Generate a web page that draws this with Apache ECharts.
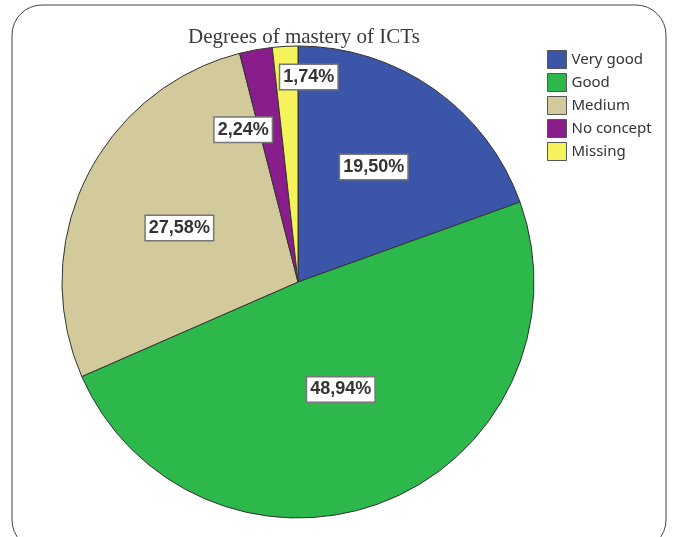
<!DOCTYPE html>
<html>
<head>
<meta charset="utf-8">
<script src="https://cdn.jsdelivr.net/npm/echarts@6/dist/echarts.min.js"></script>
<style>html,body{margin:0;padding:0;background:#fff;}#c{width:677px;height:537px;}</style>
</head>
<body>
<div id="c"></div>
<script>
const categories = ['Very good', 'Good', 'Medium', 'No concept', 'Missing'];
const values = [19.50, 48.94, 27.58, 2.24, 1.74];
const colors = ['#3b55a9', '#2db84b', '#d3ca9b', '#881d8b', '#f6f25b'];
// label placement (style only): radial fraction and horizontal/vertical nudge
const labelRadius = [0.58, 0.49, 0.55, 0.66, 0.87];
const labelNudgeX = [-3, 0, -2, -27, 22];
const labelNudgeY = [-3, 0, 3, 1, 0];

const chart = echarts.init(document.getElementById('c'));
const cx = 298, cy = 282, R = 236;
chart.setOption({
  animation: false,
  title: {
    text: 'Degrees of mastery of ICTs',
    left: 299, top: 22, textAlign: 'center',
    textStyle: {fontFamily: 'Liberation Serif', fontSize: 21, fontWeight: 'normal', color: '#3a3a3a'}
  },
  legend: {
    orient: 'vertical', left: 542, top: 45,
    itemWidth: 19, itemHeight: 18, itemGap: 4,
    icon: 'rect',
    data: categories,
    textStyle: {fontFamily: 'Noto Sans', fontSize: 15, color: '#333'},
    itemStyle: {borderColor: '#555', borderWidth: 1}
  },
  graphic: [{
    type: 'rect', shape: {x: 12, y: 5, width: 654, height: 545, r: 30},
    style: {fill: 'none', stroke: '#444', lineWidth: 1}, silent: true, z: -1
  }],
  series: [{
    type: 'pie',
    center: [cx, cy], radius: R,
    startAngle: 90, clockwise: true,
    data: categories.map((n, i) => ({name: n, value: values[i], itemStyle: {color: colors[i]}})),
    itemStyle: {borderColor: '#333', borderWidth: 1},
    label: {
      position: 'inside',
      formatter: p => p.value.toFixed(2).replace('.', ',') + '%',
      fontFamily: 'Liberation Sans', fontWeight: 'bold', fontSize: 18, color: '#333',
      backgroundColor: '#fff', borderColor: '#777', borderWidth: 1.5, padding: [4, 3, 2, 3]
    },
    labelLayout: function (params) {
      const i = params.dataIndex;
      let before = 0;
      for (let k = 0; k < i; k++) before += values[k];
      const total = values.reduce((a, b) => a + b, 0);
      const mid = (before + values[i] / 2) / total * 2 * Math.PI;
      const r = R * labelRadius[i];
      const x = cx + r * Math.sin(mid) + labelNudgeX[i];
      const y = cy - r * Math.cos(mid) + labelNudgeY[i];
      return {x: x, y: y, align: 'center', verticalAlign: 'middle'};
    },
    labelLine: {show: false},
    emphasis: {disabled: true}
  }]
});
</script>
</body>
</html>
